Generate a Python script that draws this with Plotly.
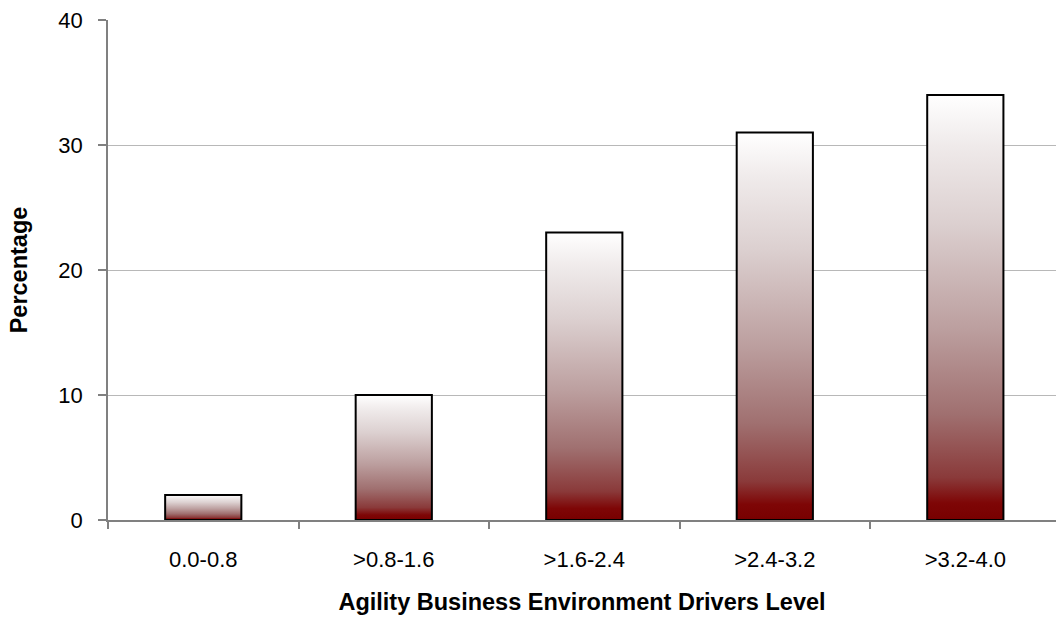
import plotly.graph_objects as go

# Share of respondents per agility driver level
levels = ["0.0-0.8", ">0.8-1.6", ">1.6-2.4", ">2.4-3.2", ">3.2-4.0"]
percentages = [2, 10, 23, 31, 34]

bar_width = 0.40
# dark red at the base fading to white at the top of each bar
gradient = [
    [0.0, "#780000"],
    [0.04, "#7e0606"],
    [0.10, "#8a3a3a"],
    [0.25, "#a07070"],
    [0.45, "#bc9f9f"],
    [0.70, "#dcd0d0"],
    [0.88, "#efeaea"],
    [1.0, "#ffffff"],
]

fig = go.Figure()
for i, (lvl, v) in enumerate(zip(levels, percentages)):
    x0, x1 = i - bar_width / 2, i + bar_width / 2
    fig.add_trace(go.Scatter(
        x=[x0, x0, x1, x1, x0],
        y=[0, v, v, 0, 0],
        mode="lines",
        fill="toself",
        fillgradient=dict(type="vertical", colorscale=gradient, start=0, stop=v),
        line=dict(color="black", width=2),
        name=lvl,
        hoverinfo="skip",
        showlegend=False,
    ))

fig.update_layout(
    width=1056,
    height=619,
    margin=dict(l=108, r=0, t=20, b=99),
    paper_bgcolor="white",
    plot_bgcolor="white",
    font=dict(family="Liberation Sans, Arial, sans-serif", size=22, color="black"),
    xaxis=dict(
        # the plot area runs slightly past the right edge of the page
        range=[-0.5, 4.476],
        automargin=False,
        tickmode="array",
        tickvals=list(range(len(levels))),
        ticktext=levels,
        ticks="",
        ticklabelstandoff=19,
        showgrid=False,
        zeroline=False,
        showline=True,
        linecolor="#808080",
        linewidth=1.5,
        minor=dict(
            tickmode="array",
            tickvals=[k - 0.5 for k in range(len(levels))],
            ticks="outside",
            ticklen=7,
            tickcolor="#808080",
            tickwidth=1.5,
            showgrid=False,
        ),
        tickfont=dict(size=22),
        title=dict(text="<b>Agility Business Environment Drivers Level</b>",
                   font=dict(size=23.5), standoff=22),
    ),
    yaxis=dict(
        range=[0, 40],
        automargin=False,
        tickvals=[0, 10, 20, 30, 40],
        ticks="outside",
        ticklen=8,
        tickcolor="#808080",
        tickwidth=1.5,
        ticklabelstandoff=11,
        showgrid=True,
        gridcolor="#b8b8b8",
        gridwidth=1.2,
        zeroline=False,
        showline=True,
        linecolor="#808080",
        linewidth=1.5,
        tickfont=dict(size=22),
        title=dict(text="<b>Percentage</b>", font=dict(size=23.5), standoff=24),
    ),
)

fig.write_html("out.html")
